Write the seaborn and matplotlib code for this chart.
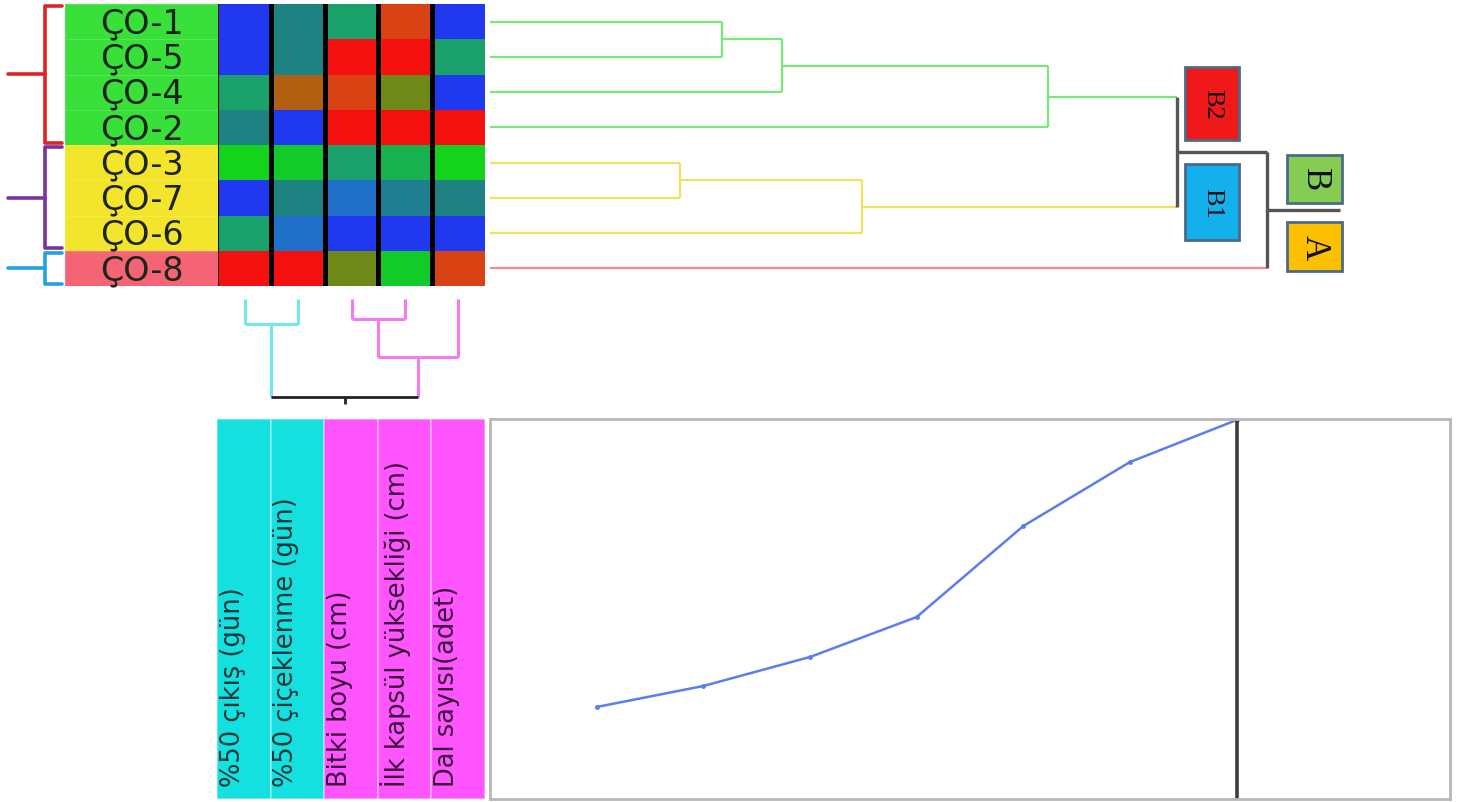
import numpy as np
import pandas as pd
import matplotlib
matplotlib.use("Agg")
import matplotlib.pyplot as plt
import seaborn as sns
from matplotlib.colors import LinearSegmentedColormap, ListedColormap
from matplotlib.patches import Rectangle

# === data ===
genotypes = ['ÇO-1', 'ÇO-5', 'ÇO-4', 'ÇO-2', 'ÇO-3', 'ÇO-7', 'ÇO-6', 'ÇO-8']
traits = ['%50 çıkış (gün)', '%50 çiçeklenme (gün)', 'Bitki boyu (cm)',
          'İlk kapsül yüksekliği (cm)', 'Dal sayısı(adet)']

# scaled trait scores (0 = blue ... 1 = red)
scores = [
    [0.00, 0.25, 0.38, 0.90, 0.00],
    [0.00, 0.25, 1.00, 1.00, 0.38],
    [0.38, 0.80, 0.90, 0.70, 0.00],
    [0.25, 0.00, 1.00, 1.00, 1.00],
    [0.50, 0.48, 0.38, 0.42, 0.50],
    [0.00, 0.25, 0.12, 0.22, 0.25],
    [0.38, 0.12, 0.00, 0.00, 0.00],
    [1.00, 1.00, 0.70, 0.48, 0.90],
]

genotype_group = [0, 0, 0, 0, 1, 1, 1, 2]   # green / yellow / pink
trait_group = [0, 0, 1, 1, 1]               # cyan / magenta
bracket_sizes = [4, 3, 1]

# linkage (child_a, child_b, height) - leaves numbered in display order
row_merges = [(0, 1, 2.32), (8, 2, 2.92), (9, 3, 5.58),
              (4, 5, 1.90), (11, 6, 3.72), (10, 12, 6.87), (13, 7, 7.77)]
col_merges = [(0, 1, 25), (2, 3, 20), (6, 4, 58), (5, 7, 98)]

fusion_step = [1, 2, 3, 4, 5, 6, 7]
fusion_level = [9.2, 11.3, 14.2, 18.2, 27.3, 33.7, 37.9]
cut_step = 7

# === style ===
sns.set_theme(style="white")
plt.rcParams['font.family'] = ['DejaVu Sans']

W, H = 1460, 803
fig = plt.figure(figsize=(W / 100, H / 100), dpi=100)


def rect(x0, y0, x1, y1):
    return [x0 / W, 1 - y1 / H, (x1 - x0) / W, (y1 - y0) / H]


def bare(ax):
    ax.set_axis_off()


def draw_dendro(ax, merges, n, leaf_colors, node_colors, stub, width, vertical):
    pos = {i: i + 0.5 for i in range(n)}
    hgt = {i: 0.0 for i in range(n)}
    col = dict(enumerate(leaf_colors))
    lw = {i: width for i in range(n)}

    def line(p0, p1, h0, h1, c, w):
        if vertical:
            ax.plot([p0, p1], [h0, h1], color=c, lw=w, solid_capstyle='butt')
        else:
            ax.plot([h0, h1], [p0, p1], color=c, lw=w, solid_capstyle='butt')

    node = n - 1
    for k, (a, b, h) in enumerate(merges):
        node = n + k
        c, w = node_colors[k]
        for ch in (a, b):
            line(pos[ch], pos[ch], hgt[ch], h, col[ch], lw[ch])
        line(pos[a], pos[b], h, h, c, w)
        pos[node] = (pos[a] + pos[b]) / 2
        hgt[node] = h
        col[node] = c
        lw[node] = w
    line(pos[node], pos[node], hgt[node], stub, col[node], lw[node])


# === row label column ===
ax_lab = fig.add_axes(rect(65, 5, 218, 287))
sns.heatmap(np.array(genotype_group)[:, None], ax=ax_lab, cbar=False,
            cmap=ListedColormap(['#3ae03a', '#f3e42c', '#f46474']), vmin=-0.5, vmax=2.5,
            linewidths=0.6, linecolor=(1, 1, 1, 0.15), xticklabels=False, yticklabels=False)
for i, g in enumerate(genotypes):
    ax_lab.text(0.5, i + 0.53, g, ha='center', va='center', fontsize=24, color='#1c241c')
bare(ax_lab)

# === heatmap ===
cmap = LinearSegmentedColormap.from_list('scores', [
    (0.0, '#2038f0'), (0.12, '#2070c8'), (0.25, '#1e8282'), (0.38, '#1aa06a'),
    (0.5, '#12d41a'), (0.7, '#6e8a18'), (0.8, '#b06010'), (0.9, '#d84414'),
    (1.0, '#f51010')])
df = pd.DataFrame(scores, index=genotypes, columns=traits)
ax_hm = fig.add_axes(rect(218, 5, 485, 287))
sns.heatmap(df, ax=ax_hm, cmap=cmap, vmin=0, vmax=1, cbar=False,
            xticklabels=False, yticklabels=False)
for j in range(1, len(traits)):
    ax_hm.axvline(j, color='black', lw=3.6)
ax_hm.axvline(0, color='#101010', lw=1.5)
bare(ax_hm)

# === brackets on the left ===
ax_br = fig.add_axes(rect(0, 5, 65, 287))
ax_br.set_xlim(0, 65)
ax_br.set_ylim(len(genotypes), 0)
bracket_colors = ['#e02424', '#7434a4', '#22a2e2']
start = 0
for size, c in zip(bracket_sizes, bracket_colors):
    top, bot = start + 0.05, start + size - 0.07
    mid = (top + bot) / 2
    ax_br.plot([62, 45, 45, 62], [top, top, bot, bot], color=c, lw=2.6)
    ax_br.plot([8, 45], [mid, mid], color=c, lw=2.6)
    start += size
bare(ax_br)

# === row dendrogram ===
ax_rd = fig.add_axes(rect(490, 5, 1345, 287))
ax_rd.set_xlim(0, 8.55)
ax_rd.set_ylim(len(genotypes), 0)
green, yellow, pink, grey = '#78e878', '#efe25c', '#ff8498', '#555555'
draw_dendro(ax_rd, row_merges, len(genotypes),
            [green] * 4 + [yellow] * 3 + [pink],
            [(green, 1.6)] * 3 + [(yellow, 1.6)] * 2 + [(grey, 2.4)] * 2,
            stub=8.5, width=1.6, vertical=False)
bare(ax_rd)

# group boxes
boxes = [
    ('B2', 1185, 68, 1239, 141, '#f01818', 19),
    ('B1', 1185, 165, 1239, 241, '#14b0ee', 19),
    ('B', 1287, 156, 1342, 204, '#84cc52', 25),
    ('A', 1287, 223, 1342, 272, '#fcc000', 25),
]
for txt, x0, y0, x1, y1, fc, fs in boxes:
    fig.patches.append(Rectangle((x0 / W, 1 - y1 / H), (x1 - x0) / W, (y1 - y0) / H,
                                 transform=fig.transFigure, facecolor=fc,
                                 edgecolor='#4c6a88', lw=2, zorder=5))
    fig.text((x0 + x1) / 2 / W, 1 - (y0 + y1) / 2 / H, txt, rotation=-90,
             ha='center', va='center', fontsize=fs, family='Liberation Serif',
             color='#111111', zorder=6)

# === column dendrogram ===
ax_cd = fig.add_axes(rect(218, 300, 485, 410))
ax_cd.set_xlim(0, len(traits))
ax_cd.set_ylim(110, 0)
cyan, magenta = '#72e6f0', '#f27af2'
draw_dendro(ax_cd, col_merges, len(traits),
            [cyan] * 2 + [magenta] * 3,
            [(cyan, 2.2), (magenta, 2.2), (magenta, 2.2), ('#222222', 2.0)],
            stub=105, width=2.2, vertical=True)
bare(ax_cd)

# === trait label panel ===
ax_tr = fig.add_axes(rect(217, 420, 485, 800))
sns.heatmap(np.array(trait_group)[None, :], ax=ax_tr, cbar=False,
            cmap=ListedColormap(['#14e0e0', '#ff55ff']), vmin=-0.5, vmax=1.5,
            linewidths=1.2, linecolor=(1, 1, 1, 0.35), xticklabels=False, yticklabels=False)
for j, (t, g) in enumerate(zip(traits, trait_group)):
    ax_tr.text(j + 0.05, 0.965, t, rotation=90, ha='left', va='bottom', fontsize=18.5,
               color='#123838' if g == 0 else '#3a103a')
bare(ax_tr)

# === fusion level line ===
ax_ln = fig.add_axes(rect(490, 420, 1450, 800))
sns.lineplot(x=fusion_step, y=fusion_level, ax=ax_ln, color='#5a7ef2', lw=1.8,
             marker='o', markersize=3.5, markeredgewidth=0, clip_on=False)
ax_ln.axvline(cut_step, color='#3c3c3c', lw=2.6)
ax_ln.set_xlim(0, 9)
ax_ln.set_ylim(0, 38)
ax_ln.set_xticks([])
ax_ln.set_yticks([])
for s in ax_ln.spines.values():
    s.set_color('#b8b8b8')
    s.set_linewidth(2)

fig.savefig("out.png", dpi=100)
